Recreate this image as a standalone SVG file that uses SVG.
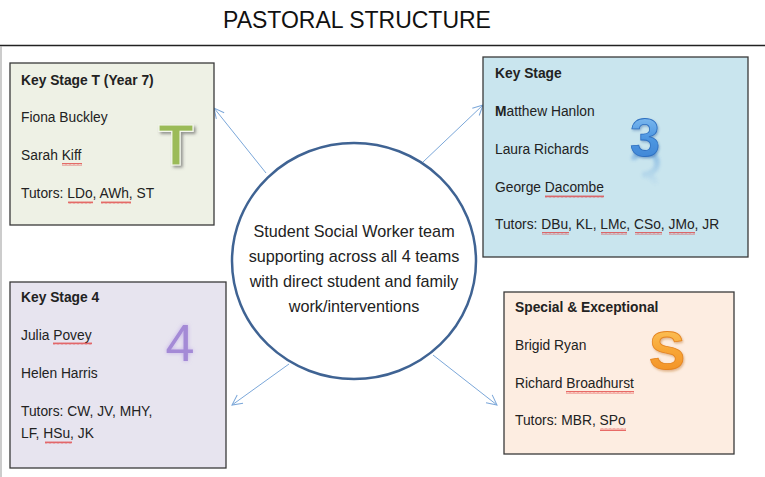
<svg xmlns="http://www.w3.org/2000/svg" width="765" height="477" viewBox="0 0 765 477">
<style>
  text { font-family: "Liberation Sans", Arial, sans-serif; }
  .t { font-size: 13.8px; fill: #222; }
  .b { font-weight: bold; }
  .box { stroke: #3a3a3a; stroke-width: 1.3; }
  .conn { stroke: #7ba7d9; stroke-width: 1; fill: none; marker-end: url(#arr); }
  .sq { fill: url(#squig); }
  .c { font-size: 16.2px; text-anchor: middle; fill: #222; }
  .big { text-anchor: middle; }
</style>
<defs>
  <marker id="arr" viewBox="0 0 12 12" refX="11" refY="6" markerWidth="12" markerHeight="12" markerUnits="userSpaceOnUse" orient="auto">
    <path d="M1 1 L11 6 L1 11" fill="none" stroke="#7ba7d9" stroke-width="1"/>
  </marker>
  <pattern id="squig" width="4" height="3" patternUnits="userSpaceOnUse">
    <path d="M0 2.5 L1 0.5 L2 2.5 L3 0.5 L4 2.5" fill="none" stroke="#e03030" stroke-width="0.7"/>
  </pattern>
  <filter id="shT" x="-30%" y="-30%" width="170%" height="170%">
    <feDropShadow dx="2" dy="2" stdDeviation="1.5" flood-color="#555" flood-opacity="0.6"/>
  </filter>
  <filter id="glow4" x="-30%" y="-30%" width="160%" height="160%">
    <feGaussianBlur in="SourceAlpha" stdDeviation="2.2" result="b"/>
    <feFlood flood-color="#b9a2e6" flood-opacity="0.8"/>
    <feComposite in2="b" operator="in" result="g"/>
    <feMerge><feMergeNode in="g"/><feMergeNode in="SourceGraphic"/></feMerge>
  </filter>
  <filter id="sh3" x="-30%" y="-30%" width="170%" height="170%">
    <feDropShadow dx="1" dy="1.5" stdDeviation="1.2" flood-color="#2a5fa0" flood-opacity="0.45"/>
  </filter>
  <filter id="shS" x="-30%" y="-30%" width="170%" height="170%">
    <feDropShadow dx="1" dy="1.5" stdDeviation="1.2" flood-color="#b8651a" flood-opacity="0.45"/>
  </filter>
  <filter id="blur" x="-50%" y="-50%" width="200%" height="200%">
    <feGaussianBlur stdDeviation="1.8"/>
  </filter>
  <linearGradient id="g3" x1="0" y1="0" x2="0" y2="1">
    <stop offset="0" stop-color="#93c9f4"/>
    <stop offset="0.5" stop-color="#4f98e2"/>
    <stop offset="1" stop-color="#3a80d2"/>
  </linearGradient>
  <linearGradient id="g3r" x1="0" y1="0" x2="0" y2="1">
    <stop offset="0" stop-color="#4a8fd8" stop-opacity="0.55"/>
    <stop offset="1" stop-color="#4a8fd8" stop-opacity="0"/>
  </linearGradient>
  <linearGradient id="gS" x1="0" y1="0" x2="0" y2="1">
    <stop offset="0" stop-color="#fdcb64"/>
    <stop offset="0.5" stop-color="#f8a636"/>
    <stop offset="1" stop-color="#f08c24"/>
  </linearGradient>
</defs>
<rect x="0" y="0" width="765" height="477" fill="#ffffff"/>
<text x="357" y="28" font-size="23" text-anchor="middle" style="fill:#111">PASTORAL STRUCTURE</text>
<line x1="0" y1="45.5" x2="765" y2="45.5" stroke="#222" stroke-width="1.6"/>
<line x1="1" y1="46" x2="1" y2="477" stroke="#aaa" stroke-width="1.2"/>

<g id="connectors">
  <line class="conn" x1="266" y1="173" x2="214" y2="108"/>
  <line class="conn" x1="423" y1="162" x2="483" y2="105"/>
  <line class="conn" x1="289" y1="364" x2="232" y2="405"/>
  <line class="conn" x1="433" y1="355" x2="497" y2="405"/>
</g>

<g id="node-ksT">
  <rect class="box" x="10" y="63" width="204" height="162" fill="#eef1e5"/>
  <text class="t b" x="21" y="85">Key Stage T (Year 7)</text>
  <text class="t" x="21" y="122">Fiona Buckley</text>
  <text class="t" x="21" y="160">Sarah Kiff</text>
  <text class="t" x="21" y="198">Tutors: LDo, AWh, ST</text>
  <rect class="sq" x="62" y="163" width="20" height="3"/>
  <rect class="sq" x="68" y="201" width="25" height="3"/>
  <rect class="sq" x="101" y="201" width="30" height="3"/>
  <text class="big" x="176" y="165" font-size="58" font-weight="bold" style="fill:#9bbb59" stroke="#f4f7ee" stroke-width="1.2" filter="url(#shT)">T</text>
</g>

<g id="node-ks3">
  <rect class="box" x="483" y="57" width="265" height="200" fill="#c9e5ee"/>
  <text class="t b" x="495" y="78">Key Stage</text>
  <text class="t" x="495" y="116"><tspan class="b">M</tspan>atthew Hanlon</text>
  <text class="t" x="495" y="154">Laura Richards</text>
  <text class="t" x="495" y="192">George Dacombe</text>
  <text class="t" x="495" y="229">Tutors: DBu, KL, LMc, CSo, JMo, JR</text>
  <rect class="sq" x="545" y="195" width="59" height="3"/>
  <rect class="sq" x="542" y="232" width="27" height="3"/>
  <rect class="sq" x="601" y="232" width="26" height="3"/>
  <rect class="sq" x="635" y="232" width="27" height="3"/>
  <rect class="sq" x="669" y="232" width="26" height="3"/>
  <path d="M634 160 C 634 150, 657 150, 657 163 C 657 172, 648 175, 642 175 M 645 175 C 652 176, 656 180, 655 186" fill="none" stroke="url(#g3r)" stroke-width="6" filter="url(#blur)" opacity="0.8"/>
  <text class="big" x="645" y="156" font-size="54" font-weight="bold" style="fill:url(#g3)" stroke="#2d6fc0" stroke-width="0.8" filter="url(#sh3)">3</text>
</g>

<g id="node-ks4">
  <rect class="box" x="10" y="282" width="216" height="186" fill="#e7e4ef"/>
  <text class="t b" x="21" y="302">Key Stage 4</text>
  <text class="t" x="21" y="340">Julia Povey</text>
  <text class="t" x="21" y="378">Helen Harris</text>
  <text class="t" x="21" y="416">Tutors: CW, JV, MHY,</text>
  <text class="t" x="21" y="438">LF, HSu, JK</text>
  <rect class="sq" x="53" y="342" width="39" height="3"/>
  <rect class="sq" x="45" y="441" width="27" height="3"/>
  <text class="big" x="180" y="361" font-size="52" style="fill:#a48ad6" filter="url(#glow4)">4</text>
</g>

<g id="node-special">
  <rect class="box" x="504" y="292" width="230" height="162" fill="#fdede1"/>
  <text class="t b" x="515" y="312">Special &amp; Exceptional</text>
  <text class="t" x="515" y="350">Brigid Ryan</text>
  <text class="t" x="515" y="388">Richard Broadhurst</text>
  <text class="t" x="515" y="425">Tutors: MBR, SPo</text>
  <rect class="sq" x="566" y="391" width="68" height="3"/>
  <rect class="sq" x="600" y="428" width="26" height="3"/>
  <text class="big" x="667" y="369" font-size="54" font-weight="bold" style="fill:url(#gS)" stroke="#e58420" stroke-width="0.8" filter="url(#shS)">S</text>
</g>

<g id="node-center">
  <ellipse cx="354" cy="261" rx="122" ry="118" fill="#ffffff" stroke="#3f6393" stroke-width="2.5"/>
  <text class="c" x="354" y="237">Student Social Worker team</text>
  <text class="c" x="354" y="262">supporting across all 4 teams</text>
  <text class="c" x="354" y="287">with direct student and family</text>
  <text class="c" x="354" y="312">work/interventions</text>
</g>
</svg>
